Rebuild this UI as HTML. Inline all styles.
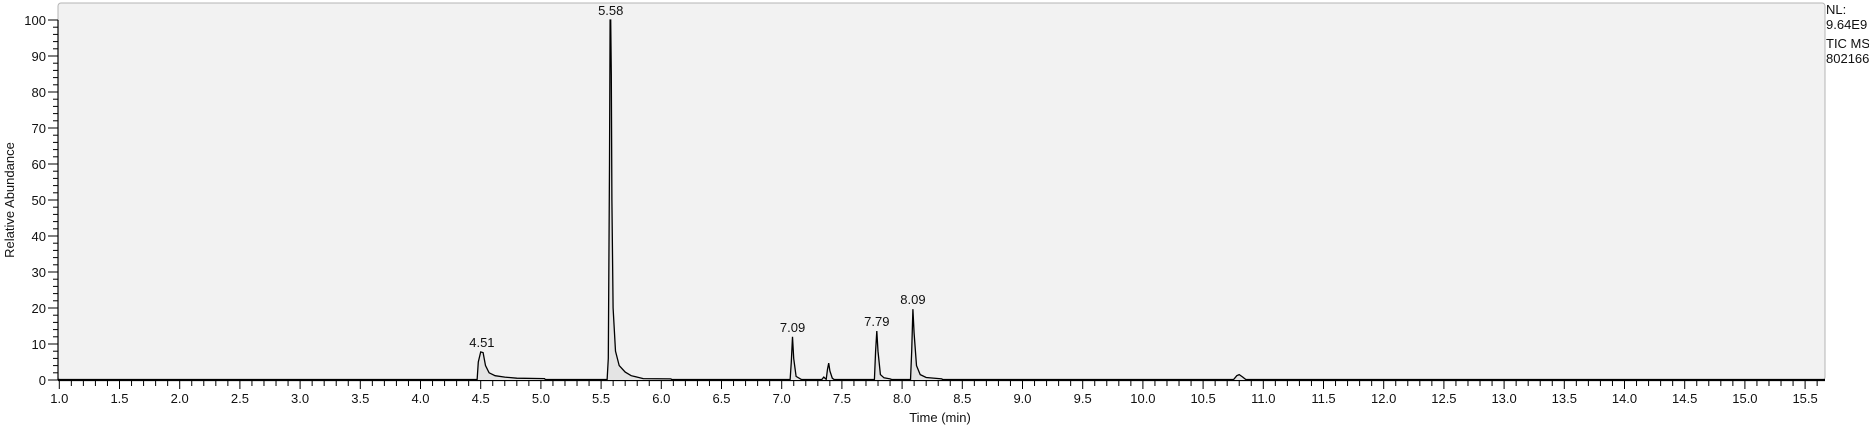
<!DOCTYPE html>
<html><head><meta charset="utf-8"><style>
body{margin:0;background:#fff;width:1869px;height:428px;overflow:hidden}
svg text{font-family:"Liberation Sans",Arial,sans-serif;font-size:13px;fill:#111}
</style></head><body>
<svg id="c" width="1869" height="428">
<rect x="58" y="3" width="1767" height="377" rx="3" fill="#f2f2f2" stroke="#b4b4b4"/>
<g id="axes"></g>
<g id="trace"></g>
<text x="14" y="200" transform="rotate(-90 14 200)" text-anchor="middle">Relative Abundance</text>
<text x="940" y="422" text-anchor="middle">Time (min)</text>
<g>
<text x="1826" y="14">NL:</text>
<text x="1826" y="29">9.64E9</text>
<text x="1826" y="48">TIC  MS</text>
<text x="1826" y="63">802166</text>
</g>
</svg>
<script>
const times=[1.0,4.47,4.48,4.50,4.52,4.54,4.57,4.62,4.7,4.8,5.03,5.04,5.55,5.56,5.57,5.575,5.58,5.585,5.59,5.6,5.62,5.65,5.7,5.75,5.8,5.85,6.08,6.09,7.07,7.08,7.09,7.10,7.12,7.15,7.17,7.33,7.35,7.37,7.38,7.39,7.40,7.42,7.44,7.77,7.78,7.79,7.80,7.82,7.85,7.9,7.92,8.07,8.08,8.09,8.10,8.12,8.15,8.2,8.33,8.34,10.75,10.78,10.8,10.83,10.86,15.65];
const abund=[0,0,5,7.8,7.6,4,2,1.2,0.8,0.5,0.4,0,0,6,60,100,100,85,50,20,8,4,2.2,1.2,0.8,0.4,0.3,0,0,5,12,6,1,0.4,0,0,0.8,0.2,3,4.7,2.5,0.5,0,0,8,13.6,8,1.5,0.6,0.3,0,0,8,19.7,13,4,1.5,0.7,0.3,0,0,1.2,1.5,0.8,0,0];
const peakLabels=["4.51","5.58","7.09","7.79","8.09"];
const peakTimes=[4.51,5.58,7.09,7.79,8.09];
const peakHeights=[7.8,100,12,13.6,19.7];
const yTicks=[0,10,20,30,40,50,60,70,80,90,100];
const xMin=1.0,xMax=15.65;
const X=t=>59.3+(t-1.0)*120.4;
const Y=v=>380-v*3.6;
const NS='http://www.w3.org/2000/svg';
function mk(tag,attrs,parent){const e=document.createElementNS(NS,tag);for(const k in attrs)e.setAttribute(k,attrs[k]);parent.appendChild(e);return e;}
const ax=document.getElementById('axes');
let l=mk('line',{x1:58,y1:Y(100),x2:58,y2:380,stroke:'#000','stroke-width':1.2},ax);


for(let v=0;v<=100;v+=2){const maj=v%10===0;mk('line',{x1:maj?48:53,y1:Y(v),x2:58,y2:Y(v),stroke:'#000'},ax);}
yTicks.forEach(v=>{const t=mk('text',{x:46,y:Y(v)+5,'text-anchor':'end'},ax);t.textContent=v;

});
l=mk('line',{x1:58,y1:380,x2:1825,y2:380,stroke:'#000','stroke-width':2.2},ax);


for(let i=0;i<=146;i++){const t=1+i*0.1;const maj=i%5===0;mk('line',{x1:X(t),y1:380,x2:X(t),y2:maj?389:386,stroke:'#000'},ax);
if(maj){const tx=mk('text',{x:X(t),y:403,'text-anchor':'middle'},ax);tx.textContent=t.toFixed(1);

}}
const tr=document.getElementById('trace');
let d=times.map((t,i)=>(i?'L':'M')+X(t).toFixed(1)+' '+Y(abund[i]).toFixed(1)).join(' ');
const fill=mk('path',{d:d+' L'+X(times[times.length-1])+' 380 L'+X(times[0])+' 380 Z',fill:'#e4e4e4',stroke:'none'},tr);


const p=mk('path',{d:d,fill:'none',stroke:'#000','stroke-width':1.3},tr);


peakLabels.forEach((s,i)=>{const t=mk('text',{x:X(peakTimes[i]),y:Y(peakHeights[i])-5,'text-anchor':'middle'},tr);t.textContent=s;

});
</script>
</body></html>
